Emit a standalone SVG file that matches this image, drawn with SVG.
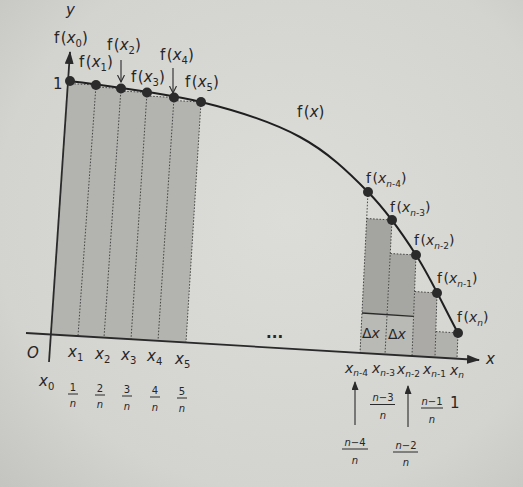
<svg xmlns="http://www.w3.org/2000/svg" width="523" height="487" viewBox="0 0 523 487">
<defs>
<radialGradient id="paper" cx="0.55" cy="0.45" r="0.8">
<stop offset="0" stop-color="#dcdcd8"/>
<stop offset="0.7" stop-color="#d3d3cf"/>
<stop offset="1" stop-color="#c2c2be"/>
</radialGradient>
<marker id="axhead" markerWidth="13" markerHeight="9" refX="12" refY="4.5" orient="auto" markerUnits="userSpaceOnUse">
<path d="M0,0 L13,4.5 L0,9 z" fill="#2a2a2a"/>
</marker>
<marker id="uphead" markerWidth="9" markerHeight="7" refX="8" refY="3.5" orient="auto" markerUnits="userSpaceOnUse">
<path d="M0,0 L9,3.5 L0,7 z" fill="#2a2a2a"/>
</marker>
<marker id="vhead" markerWidth="8" markerHeight="8" refX="7" refY="4" orient="auto" markerUnits="userSpaceOnUse">
<path d="M0,0.5 L7,4 L0,7.5" fill="none" stroke="#2a2a2a" stroke-width="1.1"/>
</marker>
<style>
.t{font-family:"DejaVu Sans","Liberation Sans",sans-serif;font-size:15px;fill:#262626}
.m{font-size:14px}
.i{font-style:italic}
.s{font-size:10px}
.ss{font-size:9px}
.fr{font-family:"DejaVu Sans","Liberation Sans",sans-serif;font-size:10px;fill:#262626;text-anchor:middle}
.dot{fill:#2b2b2b}
.dash{stroke:#3a3a3a;stroke-width:0.9;stroke-dasharray:1.6 1.6;fill:none}
.ax{stroke:#2a2a2a;stroke-width:1.8;fill:none}
.bar{stroke:#2a2a2a;stroke-width:1}
.thin{stroke:#2a2a2a;stroke-width:1.1;fill:none}
</style>
</defs>
<rect width="523" height="487" fill="url(#paper)"/>

<g id="shading">
<polygon points="51,334.5 67.9,83.5 96,85 95.9,87 121,88.5 120.8,91 147,92.5 146.8,96 174,97.5 173.8,100.5 201,102 186,342.6" fill="#b3b3af"/>
<polygon points="366.7,218.5 392,220 385,354.4 360,353" fill="#a4a4a0"/>
<polygon points="390.3,253.5 416,255 412,356 385,354.4" fill="#a6a6a2"/>
<polygon points="414.6,291.5 437,293 435,357.4 412,356" fill="#abaaa6"/>
<polygon points="435.8,331.5 458,333 457,358.7 435,357.4" fill="#b1b1ad"/>
<polygon points="362,313 413.6,316 412,356 360,353" fill="#b9b9b5"/>
</g>

<g id="connectors">
<g id="rect-edges">
<path class="dash" d="M67.9,83.5 L96,85 M95.9,87 L121,88.5 M120.8,91 L147,92.5 M146.8,96 L174,97.5 M173.8,100.5 L201,102"/>
<path class="dash" d="M96,85 L78,336 M121,88.5 L104,337.7 M147,92.5 L131,339.3 M174,97.5 L158,341 M201,102 L186,342.6"/>
<path class="dash" d="M368,192 L360,353 M392,220 L385,354.4 M416,255 L412,356 M437,293 L435,357.4 M458,333 L457,358.7"/>
<path class="dash" d="M366.7,218.5 L392,220 M390.3,253.5 L416,255 M414.6,291.5 L437,293 M435.8,331.5 L458,333"/>
<line x1="362" y1="313" x2="413.6" y2="316.3" stroke="#2a2a2a" stroke-width="1.3"/>
</g>
<g id="axes">
<line class="ax" x1="26" y1="333" x2="479" y2="360" marker-end="url(#axhead)"/>
<line class="ax" x1="49" y1="362" x2="70" y2="52" marker-end="url(#axhead)"/>
</g>
<g id="pointer-arrows">
<line class="thin" x1="121" y1="60" x2="121" y2="82" marker-end="url(#vhead)"/>
<line class="thin" x1="173" y1="68" x2="173" y2="93" marker-end="url(#vhead)"/>
<line class="thin" x1="355" y1="425" x2="355" y2="382" marker-end="url(#uphead)"/>
<line class="thin" x1="408" y1="427" x2="408" y2="386" marker-end="url(#uphead)"/>
</g>
</g>

<g id="curve">
<path d="M70,81 C114,87 163,93 201,102 C239.3,111.3 272.2,122 300,137 C327.8,152 348.7,172.3 368,192 C387.3,211.7 401,231.5 416,255 C431,278.5 444,307 458,333" fill="none" stroke="#1f1f1f" stroke-width="2"/>
</g>

<g id="points">
<circle class="dot" cx="70" cy="81" r="5"/>
<circle class="dot" cx="96" cy="85" r="5"/>
<circle class="dot" cx="121" cy="88.5" r="5"/>
<circle class="dot" cx="147" cy="92.5" r="5"/>
<circle class="dot" cx="174" cy="97.5" r="5"/>
<circle class="dot" cx="201" cy="102" r="5"/>
<circle class="dot" cx="368" cy="192" r="5"/>
<circle class="dot" cx="392" cy="220" r="5"/>
<circle class="dot" cx="416" cy="255" r="5"/>
<circle class="dot" cx="437" cy="293" r="5"/>
<circle class="dot" cx="458" cy="333" r="5"/>
</g>

<g id="function-labels">
<text class="t i" x="66" y="15">y</text>
<text class="t" x="54" y="43">f<tspan dx="1.5">(</tspan><tspan class="i">x</tspan><tspan class="s" dy="4">0</tspan><tspan dy="-4">)</tspan></text>
<text class="t" x="79" y="67">f<tspan dx="1.5">(</tspan><tspan class="i">x</tspan><tspan class="s" dy="4">1</tspan><tspan dy="-4">)</tspan></text>
<text class="t" x="107" y="50">f<tspan dx="1.5">(</tspan><tspan class="i">x</tspan><tspan class="s" dy="4">2</tspan><tspan dy="-4">)</tspan></text>
<text class="t" x="131" y="82">f<tspan dx="1.5">(</tspan><tspan class="i">x</tspan><tspan class="s" dy="4">3</tspan><tspan dy="-4">)</tspan></text>
<text class="t" x="160" y="60">f<tspan dx="1.5">(</tspan><tspan class="i">x</tspan><tspan class="s" dy="4">4</tspan><tspan dy="-4">)</tspan></text>
<text class="t" x="185" y="87">f<tspan dx="1.5">(</tspan><tspan class="i">x</tspan><tspan class="s" dy="4">5</tspan><tspan dy="-4">)</tspan></text>
<text class="t" x="53" y="89">1</text>
<text class="t" x="297" y="117">f<tspan dx="1.5">(</tspan><tspan class="i">x</tspan>)</text>
<text class="t m" x="366" y="183">f<tspan dx="1.5">(</tspan><tspan class="i">x</tspan><tspan class="ss i" dy="4">n</tspan><tspan class="ss">-4</tspan><tspan dy="-4">)</tspan></text>
<text class="t m" x="390" y="212">f<tspan dx="1.5">(</tspan><tspan class="i">x</tspan><tspan class="ss i" dy="4">n</tspan><tspan class="ss">-3</tspan><tspan dy="-4">)</tspan></text>
<text class="t m" x="414" y="245">f<tspan dx="1.5">(</tspan><tspan class="i">x</tspan><tspan class="ss i" dy="4">n</tspan><tspan class="ss">-2</tspan><tspan dy="-4">)</tspan></text>
<text class="t m" x="437" y="283">f<tspan dx="1.5">(</tspan><tspan class="i">x</tspan><tspan class="ss i" dy="4">n</tspan><tspan class="ss">-1</tspan><tspan dy="-4">)</tspan></text>
<text class="t m" x="457" y="322">f<tspan dx="1.5">(</tspan><tspan class="i">x</tspan><tspan class="ss i" dy="4">n</tspan><tspan dy="-4">)</tspan></text>
<text class="t" x="266" y="338" font-size="10" font-weight="bold">...</text>
<text class="t m" x="362" y="338">Δ<tspan class="i">x</tspan></text>
<text class="t m" x="388" y="339">Δ<tspan class="i">x</tspan></text>
</g>

<g id="axis-labels">
<text class="t i" x="27" y="358" font-size="17">O</text>
<text class="t i" x="486" y="364">x</text>
<text class="t i" x="68" y="357">x<tspan class="s" font-style="normal" dy="4">1</tspan></text>
<text class="t i" x="95" y="359">x<tspan class="s" font-style="normal" dy="4">2</tspan></text>
<text class="t i" x="121" y="360">x<tspan class="s" font-style="normal" dy="4">3</tspan></text>
<text class="t i" x="147" y="361">x<tspan class="s" font-style="normal" dy="4">4</tspan></text>
<text class="t i" x="175" y="364">x<tspan class="s" font-style="normal" dy="4">5</tspan></text>
<text class="t i m" x="345" y="373">x<tspan class="ss" dy="3">n</tspan><tspan class="ss" font-style="normal">-4</tspan></text>
<text class="t i m" x="372" y="373">x<tspan class="ss" dy="3">n</tspan><tspan class="ss" font-style="normal">-3</tspan></text>
<text class="t i m" x="397" y="374">x<tspan class="ss" dy="3">n</tspan><tspan class="ss" font-style="normal">-2</tspan></text>
<text class="t i m" x="423" y="374">x<tspan class="ss" dy="3">n</tspan><tspan class="ss" font-style="normal">-1</tspan></text>
<text class="t i m" x="450" y="375">x<tspan class="ss" dy="3">n</tspan></text>
<text class="t i" x="39" y="386">x<tspan class="s" font-style="normal" dy="4">0</tspan></text>
</g>

<g id="fractions">
<text class="fr" x="73" y="391">1</text><line class="bar" x1="68" y1="394" x2="78" y2="394"/><text class="fr i" x="73" y="407">n</text>
<text class="fr" x="100" y="392">2</text><line class="bar" x1="95" y1="395" x2="105" y2="395"/><text class="fr i" x="100" y="408">n</text>
<text class="fr" x="127" y="393">3</text><line class="bar" x1="122" y1="396" x2="132" y2="396"/><text class="fr i" x="127" y="409.5">n</text>
<text class="fr" x="155" y="394">4</text><line class="bar" x1="150" y1="397" x2="160" y2="397"/><text class="fr i" x="155" y="411">n</text>
<text class="fr" x="182" y="395">5</text><line class="bar" x1="177" y1="398" x2="187" y2="398"/><text class="fr i" x="182" y="412">n</text>
<text class="fr" x="383" y="401"><tspan class="i">n</tspan>−3</text><line class="bar" x1="370" y1="404.5" x2="395" y2="404.5"/><text class="fr i" x="383" y="419">n</text>
<text class="fr" x="432" y="405"><tspan class="i">n</tspan>−1</text><line class="bar" x1="421" y1="408" x2="443" y2="408"/><text class="fr i" x="432" y="423">n</text>
<text class="t" x="450" y="408">1</text>
<text class="fr" x="355" y="446"><tspan class="i">n</tspan>−4</text><line class="bar" x1="342" y1="449" x2="368" y2="449"/><text class="fr i" x="355" y="464">n</text>
<text class="fr" x="406" y="449"><tspan class="i">n</tspan>−2</text><line class="bar" x1="393" y1="452" x2="418" y2="452"/><text class="fr i" x="406" y="466">n</text>
</g>
</svg>
